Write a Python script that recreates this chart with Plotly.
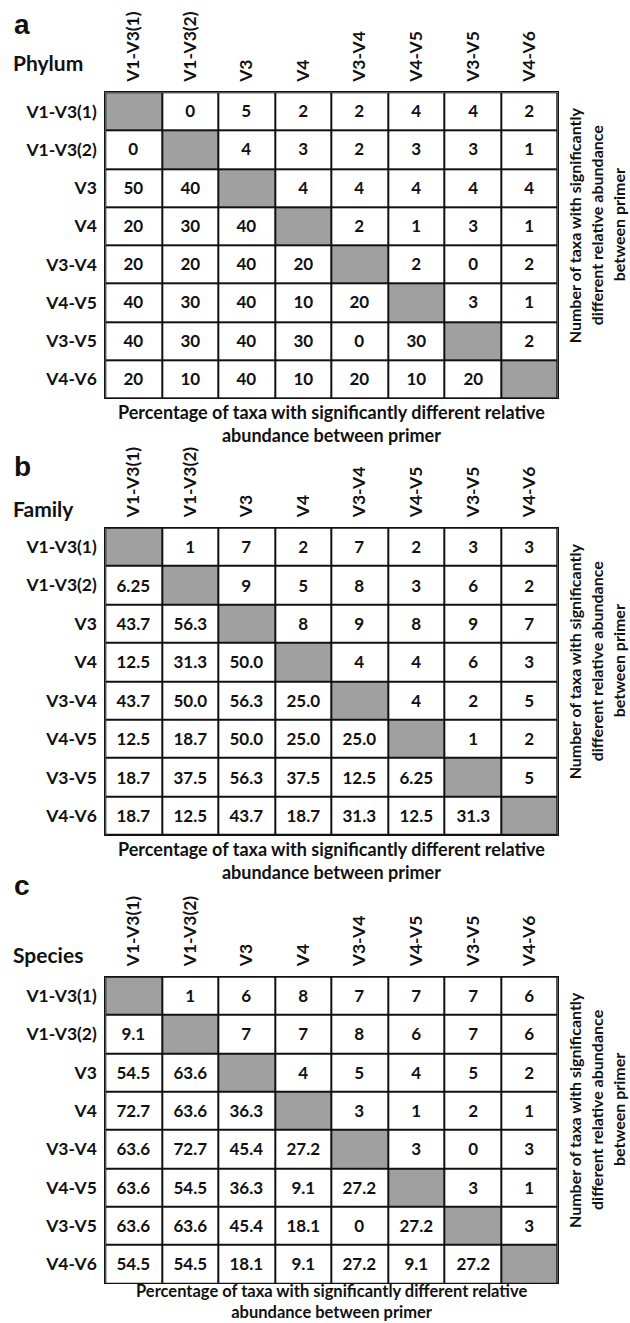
import plotly.graph_objects as go

# Primer sets (row and column categories, same order)
primers = ["V1-V3(1)", "V1-V3(2)", "V3", "V4", "V3-V4", "V4-V5", "V3-V5", "V4-V6"]

# Upper triangle: number of taxa; lower triangle: percentage of taxa ("" on the diagonal)
phylum_cells = [
    ["", "0", "5", "2", "2", "4", "4", "2"],
    ["0", "", "4", "3", "2", "3", "3", "1"],
    ["50", "40", "", "4", "4", "4", "4", "4"],
    ["20", "30", "40", "", "2", "1", "3", "1"],
    ["20", "20", "40", "20", "", "2", "0", "2"],
    ["40", "30", "40", "10", "20", "", "3", "1"],
    ["40", "30", "40", "30", "0", "30", "", "2"],
    ["20", "10", "40", "10", "20", "10", "20", ""],
]
family_cells = [
    ["", "1", "7", "2", "7", "2", "3", "3"],
    ["6.25", "", "9", "5", "8", "3", "6", "2"],
    ["43.7", "56.3", "", "8", "9", "8", "9", "7"],
    ["12.5", "31.3", "50.0", "", "4", "4", "6", "3"],
    ["43.7", "50.0", "56.3", "25.0", "", "4", "2", "5"],
    ["12.5", "18.7", "50.0", "25.0", "25.0", "", "1", "2"],
    ["18.7", "37.5", "56.3", "37.5", "12.5", "6.25", "", "5"],
    ["18.7", "12.5", "43.7", "18.7", "31.3", "12.5", "31.3", ""],
]
species_cells = [
    ["", "1", "6", "8", "7", "7", "7", "6"],
    ["9.1", "", "7", "7", "8", "6", "7", "6"],
    ["54.5", "63.6", "", "4", "5", "4", "5", "2"],
    ["72.7", "63.6", "36.3", "", "3", "1", "2", "1"],
    ["63.6", "72.7", "45.4", "27.2", "", "3", "0", "3"],
    ["63.6", "54.5", "36.3", "9.1", "27.2", "", "3", "1"],
    ["63.6", "63.6", "45.4", "18.1", "0", "27.2", "", "3"],
    ["54.5", "54.5", "18.1", "9.1", "27.2", "9.1", "27.2", ""],
]

panel_letters = ["a", "b", "c"]
panel_ranks = ["Phylum", "Family", "Species"]
panel_cells = [phylum_cells, family_cells, species_cells]
bottom_title = ["Percentage of taxa with significantly different relative",
                "abundance between primer"]
side_title = ["Number of taxa with significantly",
              "different relative abundance",
              "between primer"]

W, H = 630, 1323
FONT = "Lato"
INK = "#111111"
GRID_X = (105.3, 557.7)
# grid top / bottom (px) for each panel
GRID_Y = [(92.3, 398.3), (527.7, 835.0), (976.7, 1283.3)]
LETTER_Y = [25, 467, 885]
RANK_Y = [62.5, 508, 954]


def px_x(v):
    return v / W


def px_y(v):
    return 1 - v / H


fig = go.Figure()
annotations = []

for k, cells in enumerate(panel_cells):
    xa = "x" if k == 0 else f"x{k + 1}"
    ya = "y" if k == 0 else f"y{k + 1}"
    values = [[float(s) if s != "" else None for s in row] for row in cells]
    diag = [[1 if i == j else None for j in range(len(primers))] for i in range(len(primers))]

    fig.add_trace(go.Heatmap(
        x=primers, y=primers, z=values, text=cells, texttemplate="%{text}",
        textfont=dict(family=FONT, size=17, color=INK, weight="bold"),
        colorscale=[[0, "white"], [1, "white"]], showscale=False,
        xgap=2, ygap=2, hoverinfo="skip", xaxis=xa, yaxis=ya))
    fig.add_trace(go.Heatmap(
        x=primers, y=primers, z=diag,
        colorscale=[[0, "#a0a0a0"], [1, "#a0a0a0"]], showscale=False,
        xgap=2, ygap=2, hoverinfo="skip", xaxis=xa, yaxis=ya))

    top, bot = GRID_Y[k]
    axis_common = dict(showgrid=False, zeroline=False, showline=True, mirror=True,
                       linecolor=INK, linewidth=1, ticks="",
                       tickfont=dict(family=FONT, size=17.5, color=INK, weight="bold"))
    xkey = "xaxis" if k == 0 else f"xaxis{k + 1}"
    ykey = "yaxis" if k == 0 else f"yaxis{k + 1}"
    fig.layout[xkey] = dict(domain=[px_x(GRID_X[0]), px_x(GRID_X[1])], anchor=ya,
                            side="top", tickangle=-90, ticklabelstandoff=6,
                            fixedrange=True, **axis_common)
    fig.layout[ykey] = dict(domain=[px_y(bot), px_y(top)], anchor=xa,
                            autorange="reversed", ticklabelstandoff=4,
                            fixedrange=True, **axis_common)

    # panel letter and taxonomic rank
    annotations.append(dict(text=panel_letters[k], x=px_x(12), y=px_y(LETTER_Y[k]),
                            xanchor="left", yanchor="middle",
                            font=dict(family="Liberation Sans", size=28, color=INK, weight="bold")))
    annotations.append(dict(text=panel_ranks[k], x=px_x(11), y=px_y(RANK_Y[k]),
                            xanchor="left", yanchor="middle",
                            font=dict(family=FONT, size=21, color=INK, weight="bold")))

    # bottom title, two centred lines under the grid
    cx = (GRID_X[0] + GRID_X[1]) / 2
    if k < 2:
        pos = dict(y=px_y(bot + 25.5), yanchor="middle", size=18, pad=1)
    else:
        # last panel sits on the page edge: anchor the block to the bottom
        pos = dict(y=px_y(H), yanchor="bottom", size=16.5, pad=0)
    annotations.append(dict(text="<br>".join(bottom_title), x=px_x(cx), y=pos["y"],
                            xanchor="center", yanchor=pos["yanchor"], align="center",
                            borderpad=pos["pad"],
                            font=dict(family=FONT, size=pos["size"], color=INK, weight="bold")))

    # right-hand rotated title, three centred lines
    cy = (top + bot) / 2 - 20
    for n, line in enumerate(side_title):
        annotations.append(dict(text=line, x=px_x(574 + 22 * n), y=px_y(cy),
                                xanchor="center", yanchor="middle", textangle=-90,
                                font=dict(family=FONT, size=16, color=INK, weight="bold")))

for a in annotations:
    a.update(xref="paper", yref="paper", showarrow=False)

fig.update_layout(
    width=W, height=H, margin=dict(l=0, r=0, t=0, b=0),
    paper_bgcolor="white", plot_bgcolor=INK,
    annotations=annotations, showlegend=False,
)

fig.write_html("out.html")
